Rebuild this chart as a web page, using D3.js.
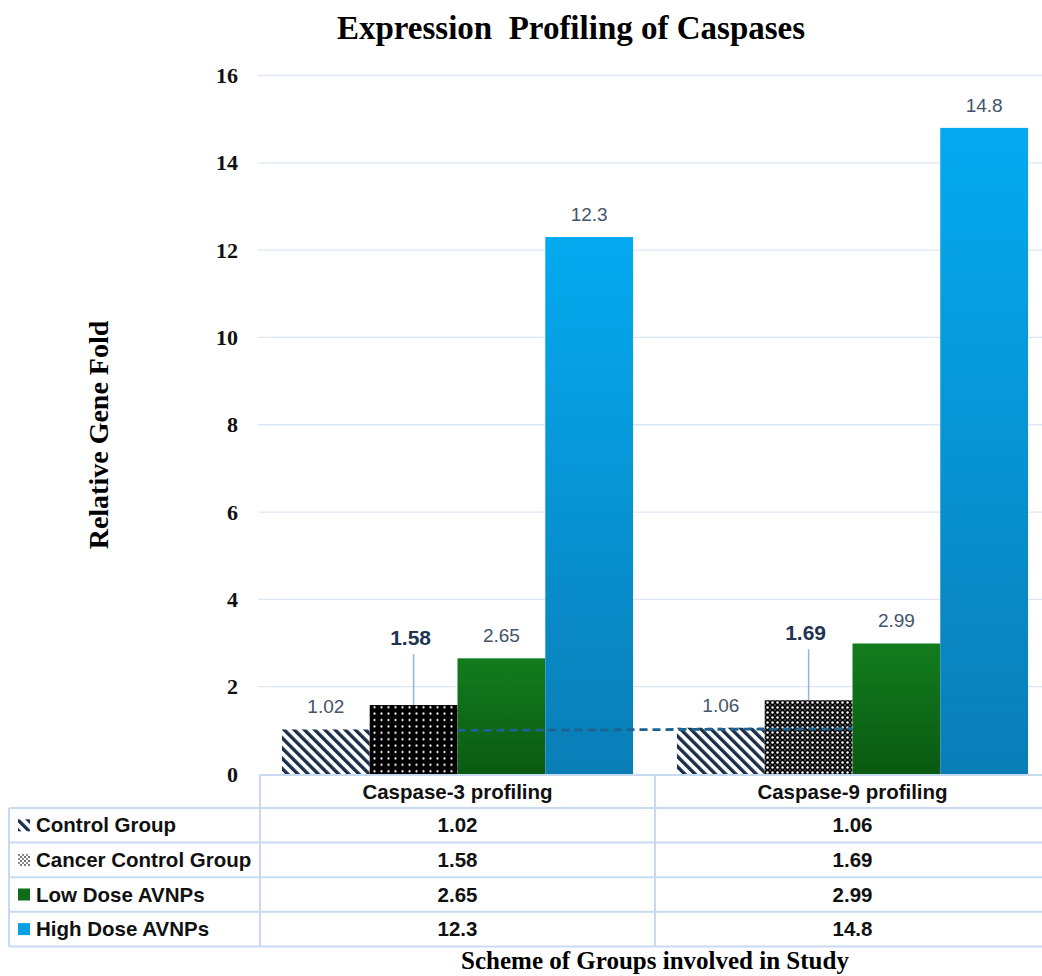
<!DOCTYPE html>
<html>
<head>
<meta charset="utf-8">
<script src="https://cdn.jsdelivr.net/npm/d3@7"></script>
<style>
  html, body { margin: 0; padding: 0; background: #fff; }
  svg { display: block; }
</style>
</head>
<body>
<svg id="chart" width="1042" height="976"></svg>
<script>
// ---- data ----
const categories = ["Caspase-3 profiling", "Caspase-9 profiling"];
const seriesNames = ["Control Group", "Cancer Control Group", "Low Dose AVNPs", "High Dose AVNPs"];
const controlGroup = [1.02, 1.06];
const cancerControlGroup = [1.58, 1.69];
const lowDoseAVNPs = [2.65, 2.99];
const highDoseAVNPs = [12.3, 14.8];
const yTicks = [0, 2, 4, 6, 8, 10, 12, 14, 16];
const valueLabels = {
  "Control Group": ["1.02", "1.06"],
  "Cancer Control Group": ["1.58", "1.69"],
  "Low Dose AVNPs": ["2.65", "2.99"],
  "High Dose AVNPs": ["12.3", "14.8"]
};

const seriesValues = [controlGroup, cancerControlGroup, lowDoseAVNPs, highDoseAVNPs];

// ---- layout ----
const W = 1042, H = 976;
const plot = { left: 260, right: 1050, top: 75.5, bottom: 774 };
const table = { left: 9, headerTop: 775, headerBottom: 808, rowH: 34.6 };
const serif = "'Liberation Serif', 'Times New Roman', serif";
const sans = "'Liberation Sans', Arial, sans-serif";
const gridColor = "#dde7f3";
const borderColor = "#c8daf0";

const svg = d3.select("#chart");
svg.append("rect").attr("width", W).attr("height", H).attr("fill", "#fff");

const defs = svg.append("defs");

// diagonal hatch for the control group
const hatch = defs.append("pattern")
  .attr("id", "hatch").attr("patternUnits", "userSpaceOnUse")
  .attr("width", 7.2).attr("height", 7.2)
  .attr("patternTransform", "rotate(-45)");
hatch.append("rect").attr("width", 7.2).attr("height", 7.2).attr("fill", "#fff");
hatch.append("rect").attr("x", 0).attr("width", 3.4).attr("height", 7.2).attr("fill", "#1b2f4b");

// white dots on black (cancer control, caspase-3)
const dots = defs.append("pattern")
  .attr("id", "dots").attr("patternUnits", "userSpaceOnUse")
  .attr("width", 7).attr("height", 6.4);
dots.append("rect").attr("width", 7).attr("height", 6.4).attr("fill", "#000");
dots.append("circle").attr("cx", 3.5).attr("cy", 3.2).attr("r", 1.1).attr("fill", "#fff");

// lattice (cancer control, caspase-9)
const lattice = defs.append("pattern")
  .attr("id", "lattice").attr("patternUnits", "userSpaceOnUse")
  .attr("width", 5).attr("height", 5);
lattice.append("rect").attr("width", 5).attr("height", 5).attr("fill", "#050505");
lattice.append("circle").attr("cx", 2.5).attr("cy", 2.5).attr("r", 1.25).attr("fill", "#fff");
[[0, 0], [5, 0], [0, 5], [5, 5]].forEach(([cx, cy]) =>
  lattice.append("circle").attr("cx", cx).attr("cy", cy).attr("r", 0.7).attr("fill", "#bbb"));

// light cross pattern for the cancer-control legend key
const keyCross = defs.append("pattern")
  .attr("id", "keyCross").attr("patternUnits", "userSpaceOnUse")
  .attr("width", 4).attr("height", 4);
keyCross.append("rect").attr("width", 4).attr("height", 4).attr("fill", "#fff");
keyCross.append("circle").attr("cx", 1).attr("cy", 1).attr("r", 0.9).attr("fill", "#333");
keyCross.append("circle").attr("cx", 3).attr("cy", 3).attr("r", 0.9).attr("fill", "#555");

// vertical gradients for the solid bars
function vGrad(id, top, bottom) {
  const g = defs.append("linearGradient").attr("id", id)
    .attr("x1", 0).attr("y1", 0).attr("x2", 0).attr("y2", 1);
  g.append("stop").attr("offset", "0%").attr("stop-color", top);
  g.append("stop").attr("offset", "100%").attr("stop-color", bottom);
}
vGrad("gGreen", "#137c1e", "#0a5a12");
vGrad("gBlue", "#04aaf0", "#0a7db6");

const barFill = [
  () => "url(#hatch)",
  (ci) => ci === 0 ? "url(#dots)" : "url(#lattice)",
  () => "url(#gGreen)",
  () => "url(#gBlue)"
];
const legendFill = ["url(#hatch)", "url(#keyCross)", "#0e6b19", "#0aa0e6"];

// ---- scales ----
const y = d3.scaleLinear().domain([0, 16]).range([plot.bottom, plot.top]);
const x0 = d3.scaleBand().domain(categories).range([plot.left, plot.right]);
const x1 = d3.scaleBand().domain(seriesNames).range([0, x0.bandwidth()]).paddingOuter(0.25);

// ---- gridlines & y tick labels ----
const yAxis = d3.axisLeft(y).tickValues(yTicks).tickSize(0).tickPadding(0).tickFormat(d3.format("d"));
const gAxis = svg.append("g").attr("transform", `translate(${plot.left - 22},0)`).call(yAxis);
gAxis.select(".domain").remove();
gAxis.selectAll("text")
  .attr("font-family", serif).attr("font-weight", "bold").attr("font-size", 22)
  .attr("fill", "#111");

svg.append("g").selectAll("line").data(yTicks.filter(t => t > 0)).join("line")
  .attr("x1", plot.left - 2).attr("x2", plot.right)
  .attr("y1", d => y(d)).attr("y2", d => y(d))
  .attr("stroke", gridColor).attr("stroke-width", 1.3);

// ---- bars ----
const rows = [];
seriesNames.forEach((s, si) => {
  categories.forEach((c, ci) => rows.push({ s, si, c, ci, v: seriesValues[si][ci] }));
});

svg.append("g").selectAll("rect").data(rows).join("rect")
  .attr("x", d => x0(d.c) + x1(d.s))
  .attr("y", d => y(d.v))
  .attr("width", x1.bandwidth())
  .attr("height", d => y(0) - y(d.v))
  .attr("fill", d => barFill[d.si](d.ci));

// dashed connector through the control values
const connector = categories.map((c, ci) => ({
  x: x0(c) + x1(seriesNames[1]) + x1.bandwidth(),
  v: controlGroup[ci]
}));
svg.append("path")
  .datum(connector)
  .attr("d", d3.line().x(d => d.x).y(d => y(d.v) + 1))
  .attr("fill", "none").attr("stroke", "#1d6390").attr("stroke-width", 2.8)
  .attr("stroke-dasharray", "8,5");

// ---- data labels ----
const calloutLift = 60;
const labels = svg.append("g");
rows.forEach(d => {
  const cx = x0(d.c) + x1(d.s) + x1.bandwidth() / 2;
  const top = y(d.v);
  const text = valueLabels[d.s][d.ci];
  if (d.si === 1) {
    const by = top - calloutLift;
    labels.append("line")
      .attr("x1", cx).attr("x2", cx).attr("y1", by + 9).attr("y2", top)
      .attr("stroke", "#8fb6e3").attr("stroke-width", 1.5);
    labels.append("text")
      .attr("x", cx - 3).attr("y", by)
      .attr("text-anchor", "middle")
      .attr("font-family", sans).attr("font-weight", "bold").attr("font-size", 21)
      .attr("fill", "#1e3450").text(text);
  } else {
    labels.append("text")
      .attr("x", cx).attr("y", top - 16)
      .attr("text-anchor", "middle")
      .attr("font-family", sans).attr("font-size", 19)
      .attr("fill", "#44546a").text(text);
  }
});

// ---- data table ----
const tg = svg.append("g");
const rowTop = i => table.headerBottom + i * table.rowH;
const tableBottom = rowTop(seriesNames.length);

// horizontal rules
tg.append("line").attr("x1", plot.left - 1).attr("x2", plot.right)
  .attr("y1", table.headerTop).attr("y2", table.headerTop)
  .attr("stroke", borderColor).attr("stroke-width", 2);
d3.range(seriesNames.length + 1).forEach(i => {
  tg.append("line").attr("x1", table.left).attr("x2", plot.right)
    .attr("y1", rowTop(i)).attr("y2", rowTop(i))
    .attr("stroke", borderColor).attr("stroke-width", 2);
});
// vertical rules
tg.append("line").attr("x1", table.left).attr("x2", table.left)
  .attr("y1", table.headerBottom).attr("y2", tableBottom)
  .attr("stroke", borderColor).attr("stroke-width", 2);
categories.forEach(c => {
  tg.append("line").attr("x1", x0(c)).attr("x2", x0(c))
    .attr("y1", table.headerTop).attr("y2", tableBottom)
    .attr("stroke", borderColor).attr("stroke-width", 2);
});

// header
tg.selectAll("text.hdr").data(categories).join("text").attr("class", "hdr")
  .attr("x", c => x0(c) + x0.bandwidth() / 2)
  .attr("y", (table.headerTop + table.headerBottom) / 2 + 7)
  .attr("text-anchor", "middle")
  .attr("font-family", sans).attr("font-weight", "bold").attr("font-size", 20.5)
  .attr("fill", "#111").text(c => c);

// legend keys + names + values
seriesNames.forEach((s, si) => {
  const cy = rowTop(si) + table.rowH / 2;
  tg.append("rect").attr("x", 18).attr("y", cy - 6).attr("width", 12).attr("height", 12)
    .attr("fill", legendFill[si]);
  tg.append("text").attr("x", 36).attr("y", cy + 7)
    .attr("font-family", sans).attr("font-weight", "bold").attr("font-size", 20.5)
    .attr("fill", "#111").text(s);
  categories.forEach((c, ci) => {
    tg.append("text").attr("x", x0(c) + x0.bandwidth() / 2).attr("y", cy + 7)
      .attr("text-anchor", "middle")
      .attr("font-family", sans).attr("font-weight", "bold").attr("font-size", 20.5)
      .attr("fill", "#111").text(valueLabels[s][ci]);
  });
});

// ---- titles ----
svg.append("text")
  .attr("x", 571).attr("y", 39)
  .attr("text-anchor", "middle")
  .attr("font-family", serif).attr("font-weight", "bold").attr("font-size", 33)
  .style("white-space", "pre")
  .attr("fill", "#000").text("Expression  Profiling of Caspases");

svg.append("text")
  .attr("transform", `translate(108,${435}) rotate(-90)`)
  .attr("text-anchor", "middle")
  .attr("font-family", serif).attr("font-weight", "bold").attr("font-size", 28)
  .attr("fill", "#000").text("Relative Gene Fold");

svg.append("text")
  .attr("x", (plot.left + plot.right) / 2).attr("y", 969)
  .attr("text-anchor", "middle")
  .attr("font-family", serif).attr("font-weight", "bold").attr("font-size", 25)
  .attr("fill", "#000").text("Scheme of Groups involved in Study");
</script>
</body>
</html>
